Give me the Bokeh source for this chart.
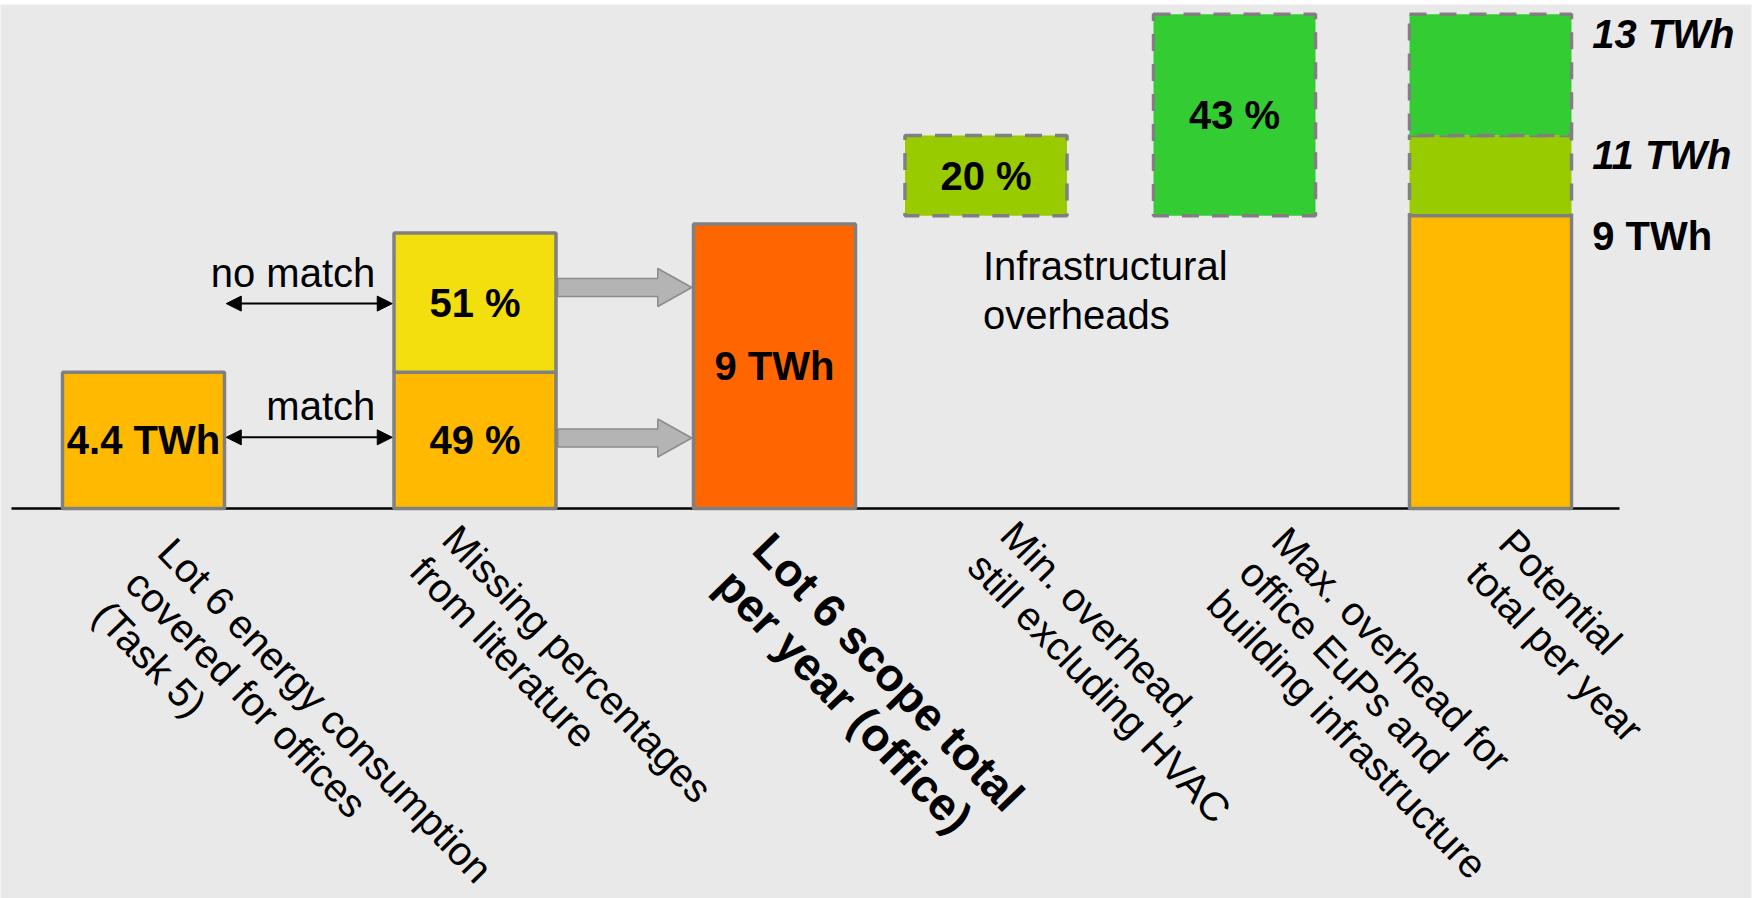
import math
from bokeh.plotting import figure
from bokeh.models import Range1d, Arrow, NormalHead
from bokeh.core.properties import value
from bokeh.embed import file_html
from bokeh.resources import INLINE

# ---------------- data ----------------
categories = [
    "Lot 6 energy consumption\ncovered for offices\n(Task 5)",
    "Missing percentages\nfrom literature",
    "Lot 6 scope total\nper year (office)",
    "Min. overhead,\nstill excluding HVAC",
    "Max. overhead for\noffice EuPs and\nbuilding infrastructure",
    "Potential\ntotal per year",
]
cat_x = [143, 474.5, 774, 985.5, 1234, 1490]          # category slot centres
cat_bold = [False, False, True, False, False, False]

seg_cat = [0, 1, 1, 2, 3, 4, 5, 5, 5]
seg_bottom = [0, 0, 4.31, 0, 9.26, 9.26, 0, 9.26, 11.80]
seg_top = [4.31, 4.31, 8.71, 9.00, 11.80, 15.63, 9.26, 11.80, 15.63]
seg_label = ["4.4 TWh", "49 %", "51 %", "9 TWh", "20 %", "43 %", "", "", ""]
seg_color = ["#FFBA00", "#FFBA00", "#F3DF0D", "#FF6600", "#99CC00",
             "#33CC33", "#FFBA00", "#99CC00", "#33CC33"]
seg_dashed = [False, False, False, False, True, True, False, True, True]

total_labels = ["9 TWh", "11 TWh", "13 TWh"]
total_levels = [9.26, 11.80, 15.63]
total_italic = [False, True, True]

match_labels = ["no match", "match"]
match_levels = [6.48, 2.25]
flow_levels = [6.99, 2.23]
note_text = "Infrastructural\noverheads"

# ---------------- layout / style ----------------
W, H = 1753, 898
K = 31.62          # px per unit
BASE_PX = 508
TOP_B, RIGHT_B = 4, 2
BAR_W = 162
OUT = 1.75
FONT = "Liberation Sans"
FS = "40px"
GRAY = "#808080"

def u(px):
    return px / K

p = figure(width=W, height=H, output_backend="svg", toolbar_location=None,
           x_range=Range1d(0, W - RIGHT_B),
           y_range=Range1d(-(H - BASE_PX) / K, (BASE_PX - TOP_B) / K),
           x_axis_location=None, y_axis_location=None,
           min_border_left=0, min_border_right=RIGHT_B,
           min_border_top=TOP_B, min_border_bottom=0,
           border_fill_color="white", background_fill_color="#e9e9e9",
           outline_line_color=None)
p.grid.visible = False

# baseline
p.line(x=[11, 1619], y=[0, 0], line_color="black", line_width=2.5)

# gray flow arrows (bar 2 -> bar 3)
x0 = cat_x[1] + BAR_W / 2 + OUT
xt = cat_x[2] - BAR_W / 2 - OUT
xb = xt - 34
xs_all, ys_all = [], []
for yc in flow_levels:
    s, h = u(9), u(19)
    xs_all.append([x0, xb, xb, xt, xb, xb, x0])
    ys_all.append([yc + s, yc + s, yc + h, yc, yc - h, yc - s, yc - s])
p.patches(xs=xs_all, ys=ys_all, fill_color="#b4b4b4", line_color="#8c8c8c", line_width=1.5)

# bars: dashed first, solid after
for dashed in (True, False):
    idx = [i for i in range(len(seg_cat)) if seg_dashed[i] == dashed]
    kw = dict(line_dash="17 13") if dashed else {}
    p.quad(left=[cat_x[seg_cat[i]] - BAR_W / 2 for i in idx],
           right=[cat_x[seg_cat[i]] + BAR_W / 2 for i in idx],
           bottom=[seg_bottom[i] for i in idx],
           top=[seg_top[i] for i in idx],
           fill_color=[seg_color[i] for i in idx],
           line_color=GRAY, line_width=3.5, **kw)

# bar value labels
li = [i for i in range(len(seg_cat)) if seg_label[i]]
p.text(x=[cat_x[seg_cat[i]] for i in li],
       y=[(seg_bottom[i] + seg_top[i]) / 2 for i in li],
       text=[seg_label[i] for i in li],
       text_font=value(FONT), text_font_size=FS, text_font_style="bold",
       text_align="center", text_baseline="middle", text_color="black")

# totals at right of last bar
xr = cat_x[5] + BAR_W / 2 + OUT + 19
for lab, lev, it in zip(total_labels, total_levels, total_italic):
    p.text(x=[xr], y=[lev - u(20)], text=[lab], text_font=value(FONT), text_font_size=FS,
           text_font_style="bold italic" if it else "bold",
           text_align="left", text_baseline="middle", text_color="black")

# match / no match double arrows
xa0 = cat_x[0] + BAR_W / 2 + OUT
xa1 = cat_x[1] - BAR_W / 2 - OUT
for lab, lev in zip(match_labels, match_levels):
    p.add_layout(Arrow(x_start=xa0, y_start=lev, x_end=xa1, y_end=lev,
                       line_color="black", line_width=2,
                       start=NormalHead(size=15, fill_color="black", line_color="black", line_width=1),
                       end=NormalHead(size=15, fill_color="black", line_color="black", line_width=1)))
    p.text(x=[xa1 - 17], y=[lev + u(31)], text=[lab], text_font=value(FONT), text_font_size=FS,
           text_align="right", text_baseline="middle", text_color="black")

# note
p.text(x=[cat_x[3] - 3], y=[u(BASE_PX - 290)], text=[note_text], text_font=value(FONT),
       text_font_size=FS, text_align="left", text_baseline="middle", text_color="black",
       text_line_height=1.13)

# rotated category labels
lab_dx = [38, -9, 6, 38, 61, 32]
lab_dy = [21, 8, 14, 4, 10, 12]
for i, cat in enumerate(categories):
    p.text(x=[cat_x[i] + lab_dx[i]], y=[-u(lab_dy[i])], text=[cat],
           angle=-46, angle_units="deg",
           text_font=value(FONT), text_font_size="46px" if cat_bold[i] else FS,
           text_font_style="bold" if cat_bold[i] else "normal",
           text_align="left", text_baseline="top", text_color="black",
           text_line_height=1.0 if cat_bold[i] else 1.03)

open("out.html", "w").write(file_html(p, INLINE))
